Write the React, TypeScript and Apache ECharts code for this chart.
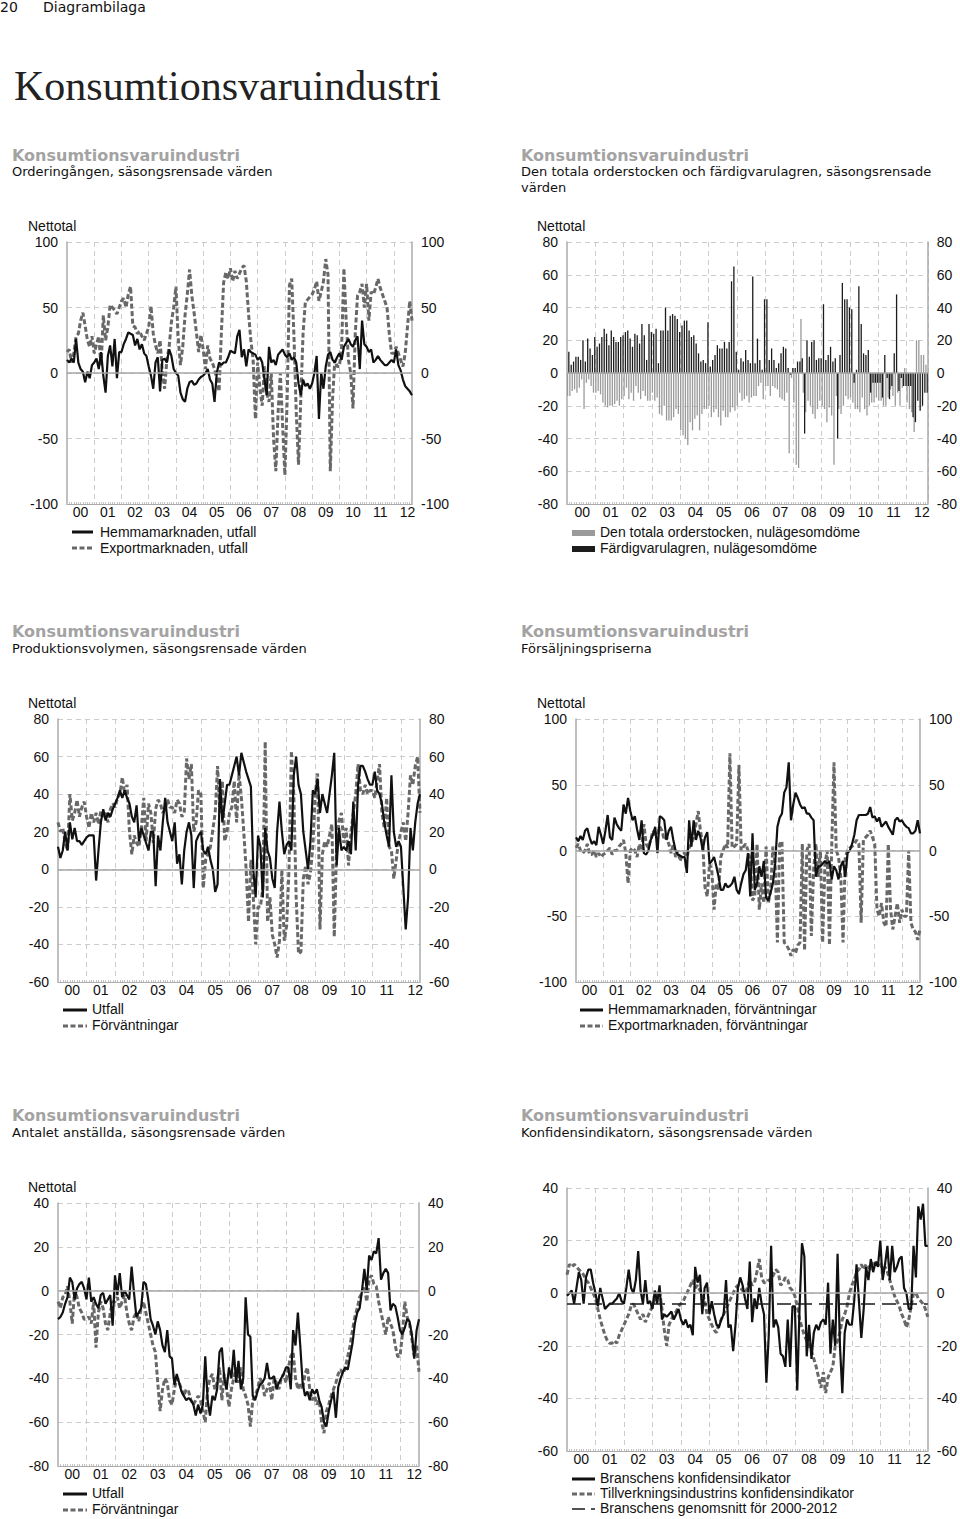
import React, { useEffect, useRef } from "react";
import * as echarts from "echarts";

// ---------- categories ----------
const YEARS = ["00", "01", "02", "03", "04", "05", "06", "07", "08", "09", "10", "11", "12"];
const MONTHS_IN_LAST_YEAR = 9;
const MONTHS: string[] = YEARS.flatMap((y, i) =>
  Array.from({ length: i === YEARS.length - 1 ? MONTHS_IN_LAST_YEAR : 12 }, (_, m) => `${y}-${String(m + 1).padStart(2, "0")}`)
);

// ---------- Panel 1: Orderingången ----------
const HEMMA_UTFALL = [
  [10, 8, 11, 8, 26, 8, 3, 1, -7, 1, -4, 6],
  [8, 11, 3, 16, -2, -15, 13, 21, 5, 26, -4, 16],
  [16, 22, 26, 31, 30, 29, 21, 26, 18, 22, 15, 13],
  [5, -2, -12, 8, 12, -14, 10, 11, 8, 18, 13, 3],
  [0, -2, -15, -20, -22, -12, -7, -6, -9, -8, -5, -3],
  [-2, 0, 3, -5, -8, -22, 0, 8, 6, 8, 8, 12],
  [17, 16, 15, 28, 33, 12, 18, 5, 18, 16, 15, 14],
  [10, 12, 8, -5, -17, 20, 8, 10, 6, 14, 16, 18],
  [14, 12, 15, 10, 12, 8, -8, -17, -5, -10, -8, -12],
  [-8, 0, 13, -35, 0, -12, 5, 14, 16, 10, 8, 12],
  [15, 10, 20, 23, 26, 22, 20, 25, 28, 3, 40, 22],
  [20, 16, 18, 8, 10, 13, 10, 8, 6, 6, 8, 10],
  [8, 18, 6, 2, -5, -10, -12, -14, -17],
].flat();
const EXPORT_UTFALL = [
  [16, 18, 8, 15, 28, 30, 40, 46, 36, 25, 20, 28],
  [15, 22, 28, 5, 44, 25, 35, 52, 50, 48, 45, 50],
  [55, 57, 50, 60, 66, 36, 35, 30, 32, 28, 25, 30],
  [35, 51, 30, 21, 15, 25, 1, -12, 10, 20, 39, 50],
  [66, 26, 6, 20, 44, 60, 79, 59, 46, 31, 16, 29],
  [18, 3, 21, 11, 8, 3, -5, -14, 30, 69, 77, 72],
  [80, 70, 78, 72, 76, 80, 82, 70, 45, 25, 10, -35],
  [8, -12, -25, 5, -15, -22, 0, -50, -75, -30, 0, -40],
  [-78, -20, 67, 72, 28, -30, -70, -20, 30, 54, 56, 58],
  [60, 64, 70, 55, 62, 70, 87, 75, -75, -20, 10, 5],
  [5, 20, 80, 40, 10, 0, -27, 30, 59, 62, 68, 50],
  [68, 40, 62, 60, 65, 72, 65, 60, 55, 50, 30, 15],
  [15, 20, 15, 10, 5, 15, 35, 55, 40],
].flat();

// ---------- Panel 2: Orderstock och lager ----------
const ORDERSTOCK = [
  [-14, -14, -11, -10, -12, -9, -4, -22, -6, -4, -8, -12],
  [-12, -11, -13, -18, -20, -21, -20, -20, -19, -17, -20, -16],
  [-14, -9, -16, -12, -17, -8, -12, -16, -11, -14, -17, -17],
  [-12, -17, -15, -25, -26, -20, -29, -29, -29, -27, -22, -25],
  [-35, -38, -40, -44, -30, -35, -28, -26, -35, -25, -22, -22],
  [-20, -27, -24, -22, -27, -32, -23, -27, -27, -24, -21, -23],
  [-20, -12, -17, -16, -14, -18, -15, -14, -14, -8, -6, -16],
  [-8, -8, -14, -8, -9, -10, -15, -16, -17, -12, -49, -3],
  [-18, -56, -58, 33, -12, -24, -17, -20, -25, -28, -22, -17],
  [-20, -22, -30, -21, -26, -56, -14, -22, -25, -20, -14, -16],
  [-15, -18, -22, -22, -24, -15, -22, -26, -20, -18, -18, -15],
  [-17, -17, -20, -20, -15, -10, -14, -20, -12, -20, -9, 3],
  [-18, -22, -24, -36, 20, 20, 11, 11, 5],
].flat();
const LAGER = [
  [13, 5, 7, 10, 10, 8, 20, 7, 21, 15, 11, 22],
  [16, 18, 22, 27, 24, 17, 26, 22, 19, 19, 22, 23],
  [25, 26, 21, 16, 24, 23, 18, 30, 23, 8, 30, 25],
  [24, 27, 6, 26, 26, 40, 26, 35, 36, 35, 33, 25],
  [29, 32, 32, 26, 22, 23, 18, 12, 7, 8, 6, 31],
  [4, 8, 11, 17, 15, 15, 19, 15, 19, 56, 65, 13],
  [2, 9, 7, 14, 8, 6, 59, 6, 21, 8, 2, 45],
  [45, 8, 15, 8, 3, 6, 12, 16, 15, 3, -1, 3],
  [3, 7, 7, 9, -37, 20, 10, 19, 20, 8, 9, 9],
  [42, 8, 11, 16, 7, 9, -40, 11, 55, 45, 45, 40],
  [39, -6, 2, 53, 30, 12, 11, 14, -12, -6, -6, -6],
  [-6, -15, 11, -3, -16, -8, 12, 48, -11, -3, -8, -8],
  [-8, -8, -27, -30, -17, -23, -20, -12, -12],
].flat();

// ---------- Panel 3: Produktionsvolymen ----------
const PROD_UTFALL = [
  [12, 6, 10, 20, 10, 25, 16, 22, 15, 15, 13, 15],
  [17, 18, 18, 18, -6, 10, 25, 32, 26, 30, 28, 32],
  [35, 38, 42, 38, 42, 38, 35, 28, 25, 34, 15, 22],
  [18, 14, 10, 20, 20, -9, 18, 10, 25, 38, 25, 20],
  [15, 25, 3, 8, -8, 10, 20, 25, 18, -10, 15, 18],
  [20, 10, 8, 12, 5, 0, -12, -8, 48, 25, 35, 45],
  [45, 50, 55, 60, 50, 62, 57, 52, 48, 44, 0, -15],
  [18, 12, -15, 22, 10, 6, -5, -10, 20, 36, 20, 8],
  [13, 15, 10, 50, 60, 45, 40, 20, 10, 0, 15, 42],
  [40, 48, 30, 40, 35, 30, 40, 50, 62, 2, 22, 10],
  [12, 10, 15, 8, 36, 10, 45, 55, 55, 52, 48, 45],
  [45, 52, 42, 40, 35, 25, 18, 12, 50, 20, 12, 15],
  [12, -10, -32, -15, 22, 10, 25, 35, 40],
].flat();
const PROD_FORV = [
  [25, 20, 22, 14, 10, 40, 26, 30, 37, 28, 33, 36],
  [28, 22, 30, 25, 30, 24, 31, 28, 30, 25, 32, 35],
  [33, 38, 40, 49, 40, 45, 20, 8, 18, 14, 12, 22],
  [38, 15, 35, 30, 14, 32, 37, 35, 30, 32, 37, 33],
  [33, 30, 37, 35, 28, 30, 59, 48, 56, 20, 25, 42],
  [40, -10, 5, 8, 12, 21, 30, 55, 30, 47, 15, 20],
  [30, 33, 47, 25, 51, 38, 20, 0, -28, 5, -15, -40],
  [-20, -20, -10, 68, -28, -15, -35, -40, -47, -38, 0, -38],
  [-30, 0, 63, 40, -15, -45, -44, -5, 2, -8, -2, 12],
  [40, 51, -32, 8, 15, 12, 18, 24, -36, 12, 26, 30],
  [14, 22, 2, 20, 30, 40, 56, 42, 40, 45, 40, 42],
  [42, 38, 47, 56, 30, 22, 38, 12, 10, -5, 5, 15],
  [20, 25, 15, 30, 50, 45, 55, 60, 30],
].flat();

// ---------- Panel 4: Försäljningspriserna ----------
const PRIS_HEMMA = [
  [10, 7, 11, 8, 15, 17, 10, 5, 7, 4, 18, 12],
  [5, 15, 27, 10, 8, 25, 20, 17, 15, 35, 28, 40],
  [30, 23, 26, 16, 8, 23, -2, -3, 0, 8, 12, 18],
  [-2, 26, 25, 23, 8, 15, 18, 8, 0, -3, -4, -5],
  [-5, -17, 23, 3, 23, 8, 15, 10, 0, 10, 14, -10],
  [-8, -5, -12, -20, -30, -30, -25, -28, -27, -25, -20, -30],
  [-33, -25, -18, -15, -2, -35, 13, -30, -25, -12, -20, -8],
  [-36, -38, -32, -25, -10, 18, 25, 28, 44, 48, 67, 23],
  [35, 44, 40, 35, 32, 33, 28, 28, 25, 23, -20, -12],
  [-12, -10, -8, -10, -8, -22, -12, -15, -22, -12, -8, -20],
  [-2, 0, 5, 12, 23, 27, 27, 27, 27, 28, 33, 25],
  [26, 22, 25, 18, 20, 22, 18, 15, 12, 23, 25, 22],
  [23, 20, 18, 17, 13, 13, 15, 23, 13],
].flat();
const PRIS_EXPORT = [
  [2, 5, 0, -2, 0, 5, -3, -3, 0, -5, -2, -5],
  [-3, -2, 0, 2, -3, 0, 0, 3, 5, 8, -2, -25],
  [0, 2, 0, -5, 5, 0, 20, 5, 2, 8, 15, 12],
  [12, 18, 15, 8, 10, 5, -2, 5, -5, 0, -8, -3],
  [-2, -5, 2, 5, 10, 20, 30, 15, 5, -28, -35, -10],
  [-15, -45, -25, -30, -5, 0, 5, 2, 74, 2, 3, 5],
  [65, 0, 3, 5, 0, -8, -38, -35, 5, -45, -25, -40],
  [3, -40, -30, 3, -10, -70, 5, 7, -70, -72, -75, -80],
  [-75, -78, -72, -70, 5, -76, 0, 5, -65, -15, 5, -20],
  [0, -70, -10, 0, -72, 3, 67, 0, -5, -20, -70, -5],
  [0, 2, 3, 5, 8, 5, -55, 8, 10, 12, 15, 10],
  [5, -45, -50, -40, -55, -58, 5, -45, -60, -50, -40, -55],
  [-45, -50, -50, 0, -55, -60, -62, -68, -60],
].flat();

// ---------- Panel 5: Antalet anställda ----------
const ANST_UTFALL = [
  [-13, -12, -10, -6, -3, 6, 4, -4, 1, 3, 4, 1],
  [-4, 6, -5, -3, -6, -8, -2, -1, -6, -4, -2, -16],
  [7, -2, 8, -3, 0, -2, -4, 11, -1, -12, -10, -8],
  [4, 3, -4, -13, -16, -20, -14, -18, -25, -28, -18, -30],
  [-31, -43, -38, -42, -46, -48, -50, -49, -50, -52, -57, -52],
  [-56, -52, -30, -50, -57, -48, -50, -45, -28, -26, -40, -45],
  [-35, -40, -27, -42, -32, -45, -40, -3, -20, -21, -48, -50],
  [-46, -43, -42, -40, -33, -40, -40, -39, -45, -42, -40, -38],
  [-35, -35, -45, -18, -25, -10, -25, -42, -48, -46, -50, -45],
  [-47, -45, -50, -53, -60, -62, -55, -50, -46, -58, -44, -40],
  [-37, -35, -36, -30, -24, -15, -10, -8, 0, 10, 0, 16],
  [14, 18, 17, 24, 5, 8, 10, 8, -9, -6, -7, -12],
  [-18, -20, -17, -13, -14, -20, -31, -18, -13],
].flat();
const ANST_FORV = [
  [-5, -8, -3, -2, 2, -5, -15, 0, -3, -8, -10, -13],
  [-13, -12, -15, -5, -26, -10, -5, -8, -15, -18, -10, -5],
  [-5, -3, -8, -5, -2, -10, -15, -18, -12, -10, -14, -8],
  [-5, -10, -15, -20, -25, -28, -42, -55, -45, -40, -42, -50],
  [-52, -45, -40, -42, -45, -48, -45, -46, -50, -52, -50, -48],
  [-50, -55, -60, -45, -40, -38, -45, -42, -35, -50, -38, -45],
  [-53, -45, -40, -35, -42, -35, -45, -48, -52, -62, -50, -48],
  [-45, -40, -42, -48, -45, -42, -50, -40, -42, -45, -40, -38],
  [-42, -35, -30, -28, -40, -45, -42, -45, -38, -35, -45, -50],
  [-48, -52, -50, -60, -65, -55, -52, -48, -45, -42, -38, -36],
  [-38, -35, -30, -25, -18, -12, -8, -3, -1, 2, -5, 5],
  [7, 3, 2, -5, -10, -15, -20, -12, -15, -18, -25, -30],
  [-30, -20, -5, -12, -15, -22, -30, -25, -37],
].flat();

// ---------- Panel 6: Konfidensindikatorn ----------
const BRANSCH = [
  [-1, 0, 1, -4, 2, 8, 5, -4, 6, 9, 9, 4],
  [0, -5, 2, -2, -6, -5, -4, -4, -3, -2, 0, -3],
  [-4, 2, 9, 2, 0, 5, 16, 1, -4, 5, -4, -3],
  [-6, 1, -4, 3, -10, -8, -9, -8, -7, -10, -8, -6],
  [-10, -12, -10, -13, -12, -16, 10, 4, 7, -8, 2, 4],
  [-8, -3, -8, -12, -13, -10, -8, 5, -13, -12, -22, -12],
  [2, 6, 3, -2, -6, 12, -11, -2, -6, 2, -4, -8],
  [-34, -16, 18, -13, -10, -13, -23, -24, -28, -10, -28, -5],
  [-5, -37, -5, 19, 14, -24, -12, -25, -15, -12, -14, -11],
  [-10, -12, 4, -23, -10, -20, 15, -20, -38, -15, -10, -12],
  [-12, -3, 11, -3, -17, -6, 10, 5, 13, 8, 12, 10],
  [20, 5, 11, 18, 5, 18, 8, 10, 13, 14, 2, 0],
  [-6, -6, 18, 6, 33, 28, 34, 18, 18],
].flat();
const TILLVERKNING = [
  [7, 11, 10, 11, 10, 9, 8, 7, 5, 4, 2, 0],
  [-2, -6, -10, -13, -16, -18, -19, -19, -18, -19, -16, -14],
  [-12, -10, -8, -5, -4, -6, -8, -10, -8, -11, -9, -7],
  [-5, -2, 0, 1, -6, -14, -20, -12, -10, -8, -7, -5],
  [-4, -3, -1, 1, 3, 5, 2, 3, 1, 0, -3, -8],
  [-10, -12, -14, -15, -12, -10, -8, -6, -4, -2, 0, 2],
  [3, 2, 1, 0, 2, 5, 3, 4, 8, 13, 6, 4],
  [4, 5, 5, 7, 9, 8, 3, 4, 6, 5, 2, 1],
  [-1, -5, -10, -13, -16, -18, -20, -22, -25, -28, -32, -36],
  [-30, -38, -32, -30, -28, -20, -18, -15, -10, -8, -5, 0],
  [3, 5, 8, 9, 11, 9, 11, 10, 9, 12, 11, 12],
  [11, 9, 10, 8, 5, 2, -1, -3, -5, -8, -10, -13],
  [-10, -5, 0, 0, -2, -3, -4, -6, -9],
].flat();
const BRANSCH_AVG = -4;

// ---------- styles ----------
const SANS = '"Liberation Sans", Arial, sans-serif';
const VERDANA = '"DejaVu Sans", Verdana, sans-serif';
const BLACK = "#111111";
const GRAY_LINE = "#686868";
const GRAY_BAR = "#9a9a9a";
const GRID = "#cccccc";
const AXIS = "#ababab";

const PANELS = [
  { left: 67, top: 242, width: 345, height: 262, min: -100, max: 100, step: 50, bars: false },
  { left: 567, top: 242, width: 361, height: 262, min: -80, max: 80, step: 20, bars: true },
  { left: 58, top: 719, width: 362, height: 263, min: -60, max: 80, step: 20, bars: false },
  { left: 576, top: 719, width: 345, height: 263, min: -100, max: 100, step: 50, bars: false },
  { left: 58, top: 1203, width: 361, height: 263, min: -80, max: 40, step: 20, bars: false },
  { left: 567, top: 1188, width: 361, height: 263, min: -60, max: 40, step: 20, bars: false },
];

const zeroLine = {
  silent: true,
  symbol: ["none", "none"],
  label: { show: false },
  lineStyle: { color: "#a6a6a6", type: "solid", width: 1.5 },
  data: [{ yAxis: 0 }],
};

function solid(name: string, data: number[], p: number) {
  return {
    type: "line", name, data, xAxisIndex: p, yAxisIndex: p * 2, symbol: "none", silent: true,
    lineStyle: { color: BLACK, width: 2.2 },
  };
}
function dashed(name: string, data: number[], p: number, withZero = true) {
  return {
    type: "line", name, data, xAxisIndex: p, yAxisIndex: p * 2, symbol: "none", silent: true,
    lineStyle: { color: GRAY_LINE, width: 3, type: [5, 2.5] },
    ...(withZero ? { markLine: zeroLine } : {}),
  };
}

function txt(x: number, y: number, text: string, o: any = {}) {
  return {
    type: "text", x, y, silent: true,
    style: {
      text, fill: o.fill || "#111", fontSize: o.size || 14, fontFamily: o.family || SANS,
      fontWeight: o.weight || "normal", verticalAlign: "middle", align: o.align || "left",
    },
  };
}
function lineSample(x1: number, x2: number, y: number, dash: any, color: string, width = 3) {
  return {
    type: "line", silent: true, shape: { x1, y1: y, x2, y2: y },
    style: { stroke: color, lineWidth: width, lineDash: dash },
  };
}
function rectSample(x: number, y: number, color: string) {
  return { type: "rect", silent: true, shape: { x, y: y - 3, width: 23, height: 6 }, style: { fill: color } };
}

export default function App() {
  const ref = useRef<HTMLDivElement>(null);
  useEffect(() => {
    if (!ref.current) return;
    const chart = echarts.init(ref.current, undefined, { renderer: "svg" });

    const grid = PANELS.map((p) => ({ left: p.left, top: p.top, width: p.width, height: p.height }));
    const xAxis = PANELS.map((p, i) => ({
      gridIndex: i, type: "category", data: MONTHS, boundaryGap: p.bars,
      axisLine: { onZero: false, lineStyle: { color: AXIS, width: 1.2 } },
      axisTick: { show: true, interval: 0, inside: true, length: 2, lineStyle: { color: "#c4c4c4" } },
      axisLabel: {
        interval: (idx: number) => idx % 12 === 6,
        formatter: (v: string) => v.slice(0, 2),
        color: "#111", fontSize: 14, fontFamily: SANS, margin: 1,
      },
      splitLine: {
        show: true, interval: (idx: number) => idx % 12 === 0 && idx > 0,
        lineStyle: { color: GRID, type: [5, 4], width: 1 },
      },
    }));
    const yAxis: any[] = [];
    PANELS.forEach((p, i) => {
      const common = {
        gridIndex: i, type: "value", min: p.min, max: p.max, interval: p.step,
        axisLine: { show: true, onZero: false, lineStyle: { color: AXIS, width: 1.5 } },
        axisTick: { show: false },
        axisLabel: { color: "#111", fontSize: 14, fontFamily: SANS, margin: 9 },
      };
      yAxis.push({ ...common, position: "left", splitLine: { show: true, lineStyle: { color: GRID, type: [5, 4], width: 1 } } });
      yAxis.push({ ...common, position: "right", splitLine: { show: false } });
    });

    const series: any[] = [
      dashed("Exportmarknaden, utfall", EXPORT_UTFALL, 0),
      solid("Hemmamarknaden, utfall", HEMMA_UTFALL, 0),
      {
        type: "bar", name: "Den totala orderstocken, nulägesomdöme", data: ORDERSTOCK, xAxisIndex: 1, yAxisIndex: 2,
        barWidth: 1.3, barGap: "0%", itemStyle: { color: GRAY_BAR }, silent: true, markLine: zeroLine,
      },
      {
        type: "bar", name: "Färdigvarulagren, nulägesomdöme", data: LAGER, xAxisIndex: 1, yAxisIndex: 2,
        barWidth: 1.3, barGap: "0%", itemStyle: { color: "#1c1c1c" }, silent: true,
      },
      dashed("Förväntningar", PROD_FORV, 2),
      solid("Utfall", PROD_UTFALL, 2),
      dashed("Exportmarknaden, förväntningar", PRIS_EXPORT, 3),
      solid("Hemmamarknaden, förväntningar", PRIS_HEMMA, 3),
      dashed("Förväntningar ", ANST_FORV, 4),
      solid("Utfall ", ANST_UTFALL, 4),
      dashed("Tillverkningsindustrins konfidensindikator", TILLVERKNING, 5),
      {
        type: "line", name: "Branschens genomsnitt för 2000-2012", data: [], xAxisIndex: 5, yAxisIndex: 10, silent: true,
        markLine: {
          silent: true, symbol: ["none", "none"], label: { show: false },
          lineStyle: { color: "#1a1a1a", type: [14, 7], width: 1.6 },
          data: [{ yAxis: BRANSCH_AVG }],
        },
      },
      solid("Branschens konfidensindikator", BRANSCH, 5),
    ];

    const TITLE_GRAY = "#a3a3a3";
    const graphic: any[] = [
      txt(0, 7, "20", { family: VERDANA, size: 14 }),
      txt(43, 7, "Diagrambilaga", { family: VERDANA, size: 14 }),
      txt(14, 86, "Konsumtionsvaruindustri", { family: '"Liberation Serif", "DejaVu Serif", serif', size: 42, fill: "#222" }),
      // panel titles
      txt(12, 155, "Konsumtionsvaruindustri", { family: VERDANA, size: 16, weight: "bold", fill: TITLE_GRAY }),
      txt(12, 171, "Orderingången, säsongsrensade värden", { family: VERDANA, size: 13 }),
      txt(521, 155, "Konsumtionsvaruindustri", { family: VERDANA, size: 16, weight: "bold", fill: TITLE_GRAY }),
      txt(521, 171, "Den totala orderstocken och färdigvarulagren, säsongsrensade", { family: VERDANA, size: 13 }),
      txt(521, 187, "värden", { family: VERDANA, size: 13 }),
      txt(12, 631, "Konsumtionsvaruindustri", { family: VERDANA, size: 16, weight: "bold", fill: TITLE_GRAY }),
      txt(12, 648, "Produktionsvolymen, säsongsrensade värden", { family: VERDANA, size: 13 }),
      txt(521, 631, "Konsumtionsvaruindustri", { family: VERDANA, size: 16, weight: "bold", fill: TITLE_GRAY }),
      txt(521, 648, "Försäljningspriserna", { family: VERDANA, size: 13 }),
      txt(12, 1115, "Konsumtionsvaruindustri", { family: VERDANA, size: 16, weight: "bold", fill: TITLE_GRAY }),
      txt(12, 1132, "Antalet anställda, säsongsrensade värden", { family: VERDANA, size: 13 }),
      txt(521, 1115, "Konsumtionsvaruindustri", { family: VERDANA, size: 16, weight: "bold", fill: TITLE_GRAY }),
      txt(521, 1132, "Konfidensindikatorn, säsongsrensade värden", { family: VERDANA, size: 13 }),
      // Nettotal
      txt(28, 226, "Nettotal"),
      txt(537, 226, "Nettotal"),
      txt(28, 703, "Nettotal"),
      txt(537, 703, "Nettotal"),
      txt(28, 1187, "Nettotal"),
      // legends panel 1
      lineSample(72, 93, 532, null, BLACK),
      lineSample(72, 93, 548, [5, 2.5], GRAY_LINE),
      txt(100, 532, "Hemmamarknaden, utfall"),
      txt(100, 548, "Exportmarknaden, utfall"),
      // legends panel 2
      rectSample(572, 533, GRAY_BAR),
      rectSample(572, 549, "#1c1c1c"),
      txt(600, 532, "Den totala orderstocken, nulägesomdöme"),
      txt(600, 548, "Färdigvarulagren, nulägesomdöme"),
      // legends panel 3
      lineSample(63, 87, 1010, null, BLACK),
      lineSample(63, 87, 1026, [5, 2.5], GRAY_LINE),
      txt(92, 1009, "Utfall"),
      txt(92, 1025, "Förväntningar"),
      // legends panel 4
      lineSample(580, 603, 1010, null, BLACK),
      lineSample(580, 603, 1026, [5, 2.5], GRAY_LINE),
      txt(608, 1009, "Hemmamarknaden, förväntningar"),
      txt(608, 1025, "Exportmarknaden, förväntningar"),
      // legends panel 5
      lineSample(63, 87, 1494, null, BLACK),
      lineSample(63, 87, 1510, [5, 2.5], GRAY_LINE),
      txt(92, 1493, "Utfall"),
      txt(92, 1509, "Förväntningar"),
      // legends panel 6
      lineSample(572, 595, 1479, null, BLACK),
      lineSample(572, 595, 1494, [5, 2.5], GRAY_LINE),
      lineSample(572, 595, 1509, [13, 6, 4, 100], "#1a1a1a", 1.6),
      txt(600, 1478, "Branschens konfidensindikator"),
      txt(600, 1493, "Tillverkningsindustrins konfidensindikator"),
      txt(600, 1508, "Branschens genomsnitt för 2000-2012"),
    ];

    chart.setOption({
      animation: false,
      backgroundColor: "#ffffff",
      grid,
      xAxis,
      yAxis,
      series,
      graphic,
    });
    return () => chart.dispose();
  }, []);

  return (
    <div
      ref={ref}
      style={{ position: "absolute", left: 0, top: 0, width: 960, height: 1519, background: "#fff" }}
    />
  );
}
